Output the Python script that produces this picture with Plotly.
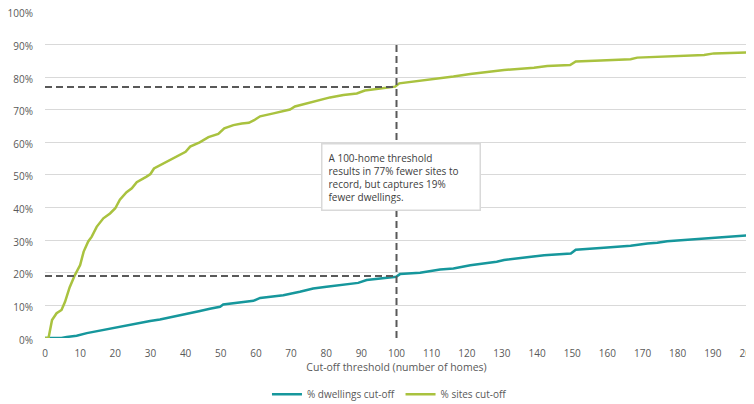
import plotly.graph_objects as go

# ---- data ----
sites_x = [0, 1, 2, 3.3, 4.7, 5.7, 7, 8.5, 10, 11, 12.3, 13.3, 14.7, 16.6, 18.5, 20, 21.3, 23.2, 24.7,
           26.1, 28.9, 30, 31, 33.7, 35.6, 38.4, 40, 41.3, 44, 46.5, 49.3, 51, 53.6, 56, 58, 59.5,
           61.2, 65, 69.7, 71.1, 74.5, 78.7, 81.1, 84.9, 88.7, 91, 95.3, 99.6, 100.8, 104.8, 110.5,
           116.2, 121, 126.6, 130.6, 139.1, 142.9, 149.4, 151, 158.1, 166.6, 168.5, 177, 187.5,
           190.3, 196, 200]
sites_pct = [0, 0, 5.5, 7.6, 8.6, 11.1, 15.5, 19.3, 22.4, 26.5, 29.6, 31.1, 34.1, 36.7, 38.2, 39.8,
             42.4, 44.7, 45.9, 47.8, 49.5, 50.3, 52.0, 53.6, 54.6, 56.3, 57.1, 58.7, 60.0, 61.6,
             62.6, 64.3, 65.3, 65.8, 66.0, 66.8, 68.0, 68.9, 70.1, 71.0, 72.0, 73.2, 73.8, 74.5,
             75.0, 75.9, 76.6, 77.1, 78.1, 78.6, 79.3, 80.2, 81.0, 81.7, 82.2, 82.9, 83.4, 83.7,
             84.8, 85.1, 85.5, 86.0, 86.3, 86.8, 87.3, 87.6, 87.6]

dw_x = [0, 4.7, 6.2, 9, 11.9, 14.7, 17.6, 19.9, 22.8, 25.1, 27, 29.9, 32.7, 36.5, 40.3, 44.1, 46.9,
        49.8, 50.7, 53.6, 56.4, 59.3, 61.2, 67.8, 72.5, 76.3, 80.1, 83.9, 89.1, 91.5, 96.2, 99.9,
        101, 106.7, 112.4, 116.2, 121, 124.7, 128.5, 130.6, 137.2, 142, 149.6, 151, 159, 166.6,
        171.4, 174.2, 177, 187.5, 190.3, 200]
dw_pct = [0, 0, 0.3, 0.7, 1.5, 2.1, 2.7, 3.0, 3.8, 4.1, 4.6, 5.2, 5.7, 6.5, 7.5, 8.3, 9.0, 9.6,
          10.3, 10.6, 11.1, 11.4, 12.3, 13.1, 14.2, 15.2, 15.7, 16.2, 16.9, 17.8, 18.3, 18.8,
          19.6, 20.0, 21.0, 21.3, 22.3, 22.8, 23.4, 23.9, 24.7, 25.4, 25.9, 27.1, 27.7, 28.3,
          29.0, 29.2, 29.7, 30.5, 30.8, 31.5]

threshold = 100
sites_at_threshold = 77
dwellings_at_threshold = 19
vline_top = 90

x_ticks = list(range(0, 201, 10))
y_ticks = list(range(0, 101, 10))
y_tick_labels = [f"{v}%" for v in y_ticks]

note = ("A 100-home threshold<br>results in 77% fewer sites to<br>"
        "record, but captures 19%<br>fewer dwellings.")

TEAL = "#16979c"
GREEN = "#a9c23f"
DASH = "#595959"
TXT = "#595959"
FONT = "Open Sans"

fig = go.Figure()
fig.add_trace(go.Scatter(x=dw_x, y=dw_pct, mode="lines", name="% dwellings cut-off",
                         line=dict(color=TEAL, width=2.5)))
fig.add_trace(go.Scatter(x=sites_x, y=sites_pct, mode="lines", name="% sites cut-off",
                         line=dict(color=GREEN, width=2.5)))

dash_line = dict(color=DASH, width=2, dash="7px,4px")
fig.add_shape(type="line", x0=0, x1=threshold, y0=sites_at_threshold, y1=sites_at_threshold,
              xref="x", yref="y", line=dash_line, layer="above")
fig.add_shape(type="line", x0=0, x1=threshold, y0=dwellings_at_threshold, y1=dwellings_at_threshold,
              xref="x", yref="y", line=dash_line, layer="above")
fig.add_shape(type="line", x0=threshold, x1=threshold, y0=0, y1=vline_top,
              xref="x", yref="y", line=dash_line, layer="above")

fig.add_annotation(x=78.5, y=59.8, xref="x", yref="y", xanchor="left", yanchor="top",
                   text=note, showarrow=False, align="left",
                   font=dict(family=FONT, size=10, color="#404040"),
                   bgcolor="white", bordercolor="#d9d9d9", borderwidth=1.5, borderpad=6,
                   width=145, valign="top")

# the page body has an 8px margin, so the figure is sized/placed to compensate
W, H = 746, 396
ml, mr, mt, mb = 37, 6, 3, 66

fig.update_layout(
    width=W, height=H,
    margin=dict(l=ml, r=mr, t=mt, b=mb, autoexpand=False),
    paper_bgcolor="white", plot_bgcolor="white",
    font=dict(family=FONT, color=TXT, size=10),
    showlegend=True,
    legend=dict(orientation="h", x=0.49, xanchor="center", y=-0.172, yanchor="middle",
                font=dict(size=10, color=TXT), itemwidth=30, tracegroupgap=0),
    xaxis=dict(range=[0, 200], tickvals=x_ticks, showgrid=False, zeroline=False,
               showline=False, ticks="outside", ticklen=6, tickcolor="rgba(0,0,0,0)",
               tickfont=dict(size=10, color=TXT), automargin=False,
               ticklabeloverflow="allow",
               title=dict(text="Cut-off threshold (number of homes)",
                          font=dict(size=10.5, color=TXT), standoff=3)),
    yaxis=dict(range=[0, 100.3], tickvals=y_ticks, ticktext=y_tick_labels, showgrid=True,
               gridcolor="#d9d9d9", gridwidth=1, zeroline=False, showline=False,
               ticks="outside", ticklen=9, tickcolor="rgba(0,0,0,0)",
               tickfont=dict(size=10, color=TXT), automargin=False,
               ticklabeloverflow="allow", ticklabelshift=2),
)

fig.write_html("out.html")
